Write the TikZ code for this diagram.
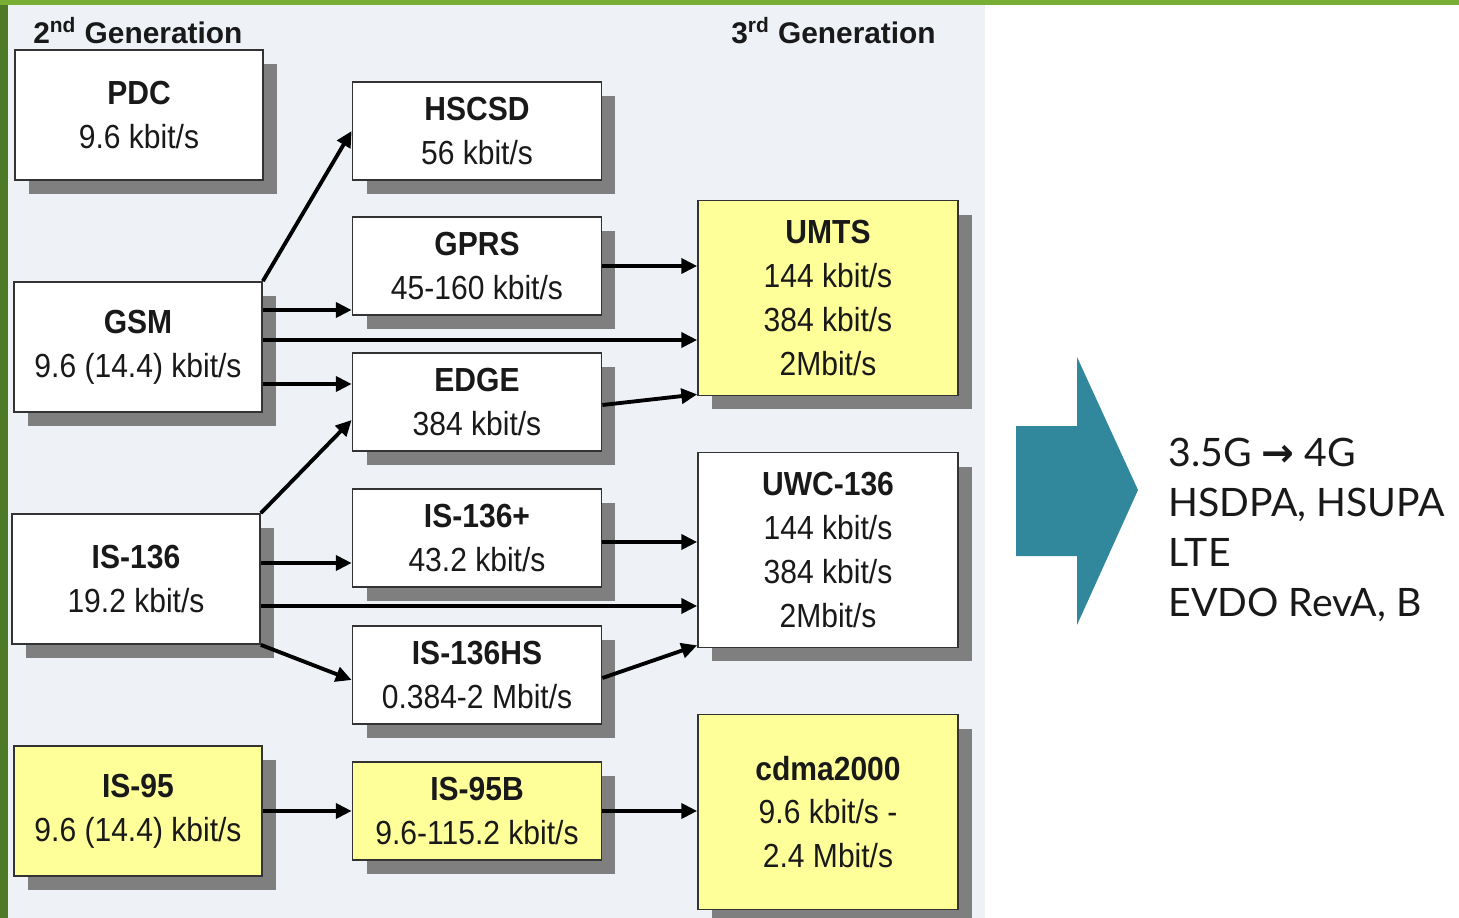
\documentclass[tikz,border=0pt]{standalone}
\usepackage{fontspec}
\usetikzlibrary{arrows.meta,shadows}
\newfontfamily\boxfont{Liberation Sans}[FakeStretch=0.9]
\newfontfamily\headfont{Liberation Sans}
\newfontfamily\sidefont{Lato}
\newfontfamily\symfont{DejaVu Sans}
\definecolor{panel}{HTML}{EEF2F7}
\definecolor{leafgreen}{HTML}{4D7A27}
\definecolor{linegreen}{HTML}{77AE33}
\definecolor{paleyellow}{HTML}{FFFF99}
\definecolor{shade}{HTML}{7F7F7F}
\definecolor{arrowteal}{HTML}{31879C}
\tikzset{
  gen/.style={draw=black!80, line width=1pt, fill=white, align=center, text=black!90,
    inner sep=0pt, font=\boxfont\fontsize{19}{25}\selectfont,
    general shadow={fill=shade, shadow xshift=2.8mm, shadow yshift=-2.8mm}},
  twog/.style={gen, minimum width=4.96cm, minimum height=2.6cm},
  midbox/.style={gen, minimum width=4.98cm, minimum height=1.96cm},
  threeg/.style={gen, minimum width=5.2cm, minimum height=3.9cm},
  hi/.style={fill=paleyellow},
  head/.style={anchor=west, inner sep=0pt, text=black!90, font=\headfont\bfseries\fontsize{17}{20}\selectfont},
  arr/.style={-{Triangle[length=9pt,width=8.5pt]}, line width=2.2pt, black},
}

\begin{document}
\begin{tikzpicture}[x=0.02cm, y=-0.02cm]
  \useasboundingbox (0,0) rectangle (1459,918);
  \fill[panel] (8,5) rectangle (985,918);
  \fill[leafgreen] (0,0) rectangle (8,918);
  \fill[linegreen] (0,0) rectangle (1459,5);

  \node[head] (second) at (33,31) {2\textsuperscript{nd} Generation};
  \node[head] (third) at (731,31) {3\textsuperscript{rd} Generation};

  % 2G
  \node[twog] (pdc) at (139,115) {\textbf{PDC}\\9.6 kbit/s};
  \node[twog] (gsm) at (138,347) {\textbf{GSM}\\9.6 (14.4) kbit/s};
  \node[twog] (is136) at (136,579) {\textbf{IS-136}\\19.2 kbit/s};
  \node[twog, hi] (is95) at (138,811) {\textbf{IS-95}\\9.6 (14.4) kbit/s};

  % 2.5G
  \node[midbox] (hscsd) at (477,131) {\textbf{HSCSD}\\56 kbit/s};
  \node[midbox] (gprs) at (477,266) {\textbf{GPRS}\\45-160 kbit/s};
  \node[midbox] (edge) at (477,402) {\textbf{EDGE}\\384 kbit/s};
  \node[midbox] (is136p) at (477,538) {\textbf{IS-136+}\\43.2 kbit/s};
  \node[midbox] (is136hs) at (477,675) {\textbf{IS-136HS}\\0.384-2 Mbit/s};
  \node[midbox, hi] (is95b) at (477,811) {\textbf{IS-95B}\\9.6-115.2 kbit/s};

  % 3G
  \node[threeg, hi] (umts) at (828,298) {\textbf{UMTS}\\144 kbit/s\\384 kbit/s\\2Mbit/s};
  \node[threeg] (uwc) at (828,550) {\textbf{UWC-136}\\144 kbit/s\\384 kbit/s\\2Mbit/s};
  \node[threeg, hi] (cdma) at (828,812) {\textbf{cdma2000}\\9.6 kbit/s -\\2.4 Mbit/s};

  \draw[arr] (gsm.north east) -- (hscsd.west);
  \draw[arr] ([yshift=7.4mm]gsm.east) -- ([yshift=7.4mm]gsm.east -| gprs.west);
  \draw[arr] ([yshift=1.4mm]gsm.east) -- ([yshift=1.4mm]gsm.east -| umts.west);
  \draw[arr] ([yshift=-7.4mm]gsm.east) -- ([yshift=-7.4mm]gsm.east -| edge.west);
  \draw[arr] (gprs.east) -- (gprs.east -| umts.west);
  \draw[arr] ([yshift=-0.6mm]edge.east) -- ([yshift=0.4mm]umts.south west);
  \draw[arr] (is136.north east) -- ([yshift=-3.6mm]edge.west);
  \draw[arr] ([yshift=3.2mm]is136.east) -- ([yshift=3.2mm]is136.east -| is136p.west);
  \draw[arr] ([yshift=-5.4mm]is136.east) -- ([yshift=-5.4mm]is136.east -| uwc.west);
  \draw[arr] (is136.south east) -- ([yshift=-1mm]is136hs.west);
  \draw[arr] ([yshift=-0.8mm]is136p.east) -- ([yshift=-0.8mm]is136p.east -| uwc.west);
  \draw[arr] ([yshift=-0.6mm]is136hs.east) -- ([yshift=0.6mm]uwc.south west);
  \draw[arr] (is95.east) -- (is95b.west);
  \draw[arr] (is95b.east) -- (is95b.east -| cdma.west);

  % towards 4G
  \fill[arrowteal]
    (1016,426) -- (1077,426) -- (1077,357) -- (1138,490) -- (1077,625) -- (1077,556) -- (1016,556) -- cycle;
  \node[anchor=west, align=left, inner sep=0pt, text=black!90, font=\sidefont\fontsize{22.3}{28.4}\selectfont]
    (beyond) at (1168,530) {3.5G {\symfont\bfseries →} 4G\\HSDPA, HSUPA\\LTE\\EVDO RevA, B};
\end{tikzpicture}
\end{document}
